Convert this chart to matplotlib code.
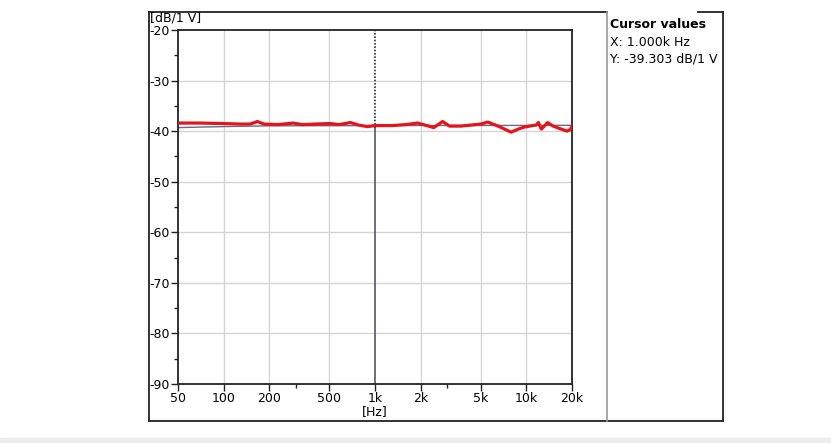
import matplotlib
matplotlib.use("Agg")
import matplotlib.pyplot as plt
from matplotlib.lines import Line2D
from matplotlib.ticker import FixedLocator, NullFormatter

W, H = 831, 443

# ---- data ----
red_freq = [50, 70, 100, 130, 150, 167, 185, 230, 288, 330, 400, 508, 580, 689, 780, 890,
            1000, 1300, 1600, 1913, 2200, 2441, 2800, 3100, 3700, 4290, 5000, 5560, 6500,
            7920, 9000, 9650, 11000, 11600, 12000, 12550, 13800, 15000, 16300, 18500, 19500, 20000]
red_db = [-38.4, -38.4, -38.5, -38.6, -38.6, -38.1, -38.6, -38.7, -38.4, -38.7, -38.6, -38.5,
          -38.7, -38.3, -38.8, -39.1, -38.9, -38.9, -38.7, -38.4, -38.9, -39.3, -38.1, -39.0,
          -39.0, -38.8, -38.6, -38.2, -39.0, -40.2, -39.5, -39.2, -38.9, -38.8, -38.3, -39.6,
          -38.3, -39.0, -39.4, -40.0, -39.7, -39.0]
ref_freq = [50, 100, 200, 1000, 20000]
ref_db = [-39.3, -39.1, -38.95, -38.9, -38.85]

x_ticks = [50, 100, 200, 500, 1000, 2000, 5000, 10000, 20000]
x_labels = ["50", "100", "200", "500", "1k", "2k", "5k", "10k", "20k"]
x_minor = [300, 3000]
y_ticks = [-20, -30, -40, -50, -60, -70, -80, -90]
y_minor = [-25, -35, -45, -55, -65, -75, -85]
cursor_x = 1000
cursor_y = -39.303

fig = plt.figure(figsize=(W / 100, H / 100), dpi=100)
fig.patch.set_facecolor("white")

def fx(p):
    return p / W

def fy(p):
    return 1 - p / H

# plot area in pixels
L, R, T, B = 178, 572, 30, 384
ax = fig.add_axes([fx(L), fy(B), fx(R - L), (B - T) / H])
ax.set_xscale("log")
ax.set_xlim(50, 20000)
ax.set_ylim(-90, -20)

ax.xaxis.set_major_locator(FixedLocator(x_ticks))
ax.set_xticks(x_ticks)
ax.set_xticklabels(x_labels)
ax.xaxis.set_minor_locator(FixedLocator(x_minor))
ax.xaxis.set_minor_formatter(NullFormatter())
ax.set_yticks(y_ticks)
ax.set_yticklabels([str(v) for v in y_ticks])
ax.yaxis.set_minor_locator(FixedLocator(y_minor))
ax.yaxis.set_minor_formatter(NullFormatter())

ax.tick_params(axis="both", which="major", length=5, width=1.0, color="#222222",
               labelsize=9, pad=1, direction="out")
ax.tick_params(axis="both", which="minor", length=3, width=1.0, color="#222222", direction="out")

for s in ax.spines.values():
    s.set_color("#222222")
    s.set_linewidth(1.3)

# grid
for xv in x_ticks[1:-1]:
    if xv != cursor_x:
        ax.axvline(xv, color="#d4d4d4", lw=1.0, zorder=0)
for yv in y_ticks[1:-1]:
    ax.axhline(yv, color="#d4d4d4", lw=1.0, zorder=0)

# cursor line
ax.plot([cursor_x, cursor_x], [-90, cursor_y], color="#555566", lw=1.2, zorder=1)
ax.plot([cursor_x, cursor_x], [cursor_y, -20], color="#333333", lw=1.2, ls=(0, (1, 1)), zorder=1)

# curves
ax.plot(ref_freq, ref_db, color="#6a6a80", lw=1.0, zorder=2)
ax.plot(red_freq, red_db, color="#e3141c", lw=2.3, zorder=3, solid_joinstyle="round")

ax.set_xlabel("[Hz]", fontsize=9, labelpad=0)
fig.text(fx(150), fy(18), "[dB/1 V]", fontsize=9, ha="left", va="center")

# frame lines
def hline(y, x0, x1, color="#222222", lw=1.3):
    fig.add_artist(Line2D([fx(x0), fx(x1)], [fy(y), fy(y)], color=color, lw=lw,
                          transform=fig.transFigure))

def vline(x, y0, y1, color="#222222", lw=1.3):
    fig.add_artist(Line2D([fx(x), fx(x)], [fy(y0), fy(y1)], color=color, lw=lw,
                          transform=fig.transFigure))

hline(12, 149, 607)
hline(12, 698, 723)
hline(421, 149, 723)
vline(149, 12, 421)
vline(607, 12, 421, color="#999999", lw=1.2)
vline(723, 12, 421)

# bottom page strip
fig.add_artist(plt.Rectangle((0, 0), 1, 5 / H, transform=fig.transFigure,
                             color="#ececec", zorder=0))

# cursor values panel
fig.text(fx(610), fy(25), "Cursor values", fontsize=9, fontweight="bold", ha="left", va="center")
fig.text(fx(610), fy(42), "X: 1.000k Hz", fontsize=9, ha="left", va="center")
fig.text(fx(610), fy(59), "Y: -39.303 dB/1 V", fontsize=9, ha="left", va="center")

fig.savefig("out.png", dpi=100, facecolor="white")
